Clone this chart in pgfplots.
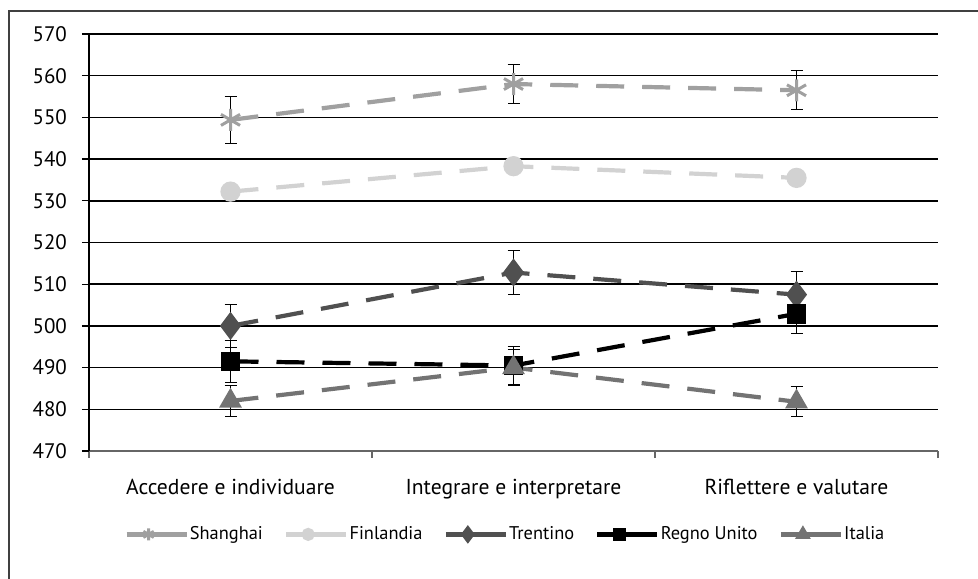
\documentclass[border=0pt]{standalone}
\usepackage{pgfplots}
\pgfplotsset{compat=1.18}
\usepackage{fontspec}
\setmainfont{PT Sans}
\definecolor{cSh}{RGB}{160,160,160}
\definecolor{cFi}{RGB}{210,210,210}
\definecolor{cTr}{RGB}{80,80,80}
\definecolor{cRU}{RGB}{0,0,0}
\definecolor{cIt}{RGB}{115,115,115}
\begin{document}
\begin{tikzpicture}
\useasboundingbox (0,0) rectangle (489pt,289pt);
\draw[black!75, line width=0.6pt] (4.5pt,-20pt) -- (4.5pt,283.5pt) -- (520pt,283.5pt);
\begin{axis}[
  at={(44.5pt,63.5pt)}, anchor=south west,
  scale only axis, width=424.5pt, height=208.5pt,
  xmin=-0.5, xmax=2.5, ymin=470, ymax=570,
  ytick={470,480,...,570},
  xtick={0,1,2},
  xticklabels={Accedere e individuare,Integrare e interpretare,Riflettere e valutare},
  minor xtick={-0.5,0.5,1.5,2.5},
  axis x line*=bottom, axis y line*=left,
  axis line style={black, line width=0.6pt, -},
  x axis line style={black!60},
  ymajorgrids, grid style={black, line width=0.75pt},
  xmajorgrids=false, xminorgrids=false,
  tick align=outside,
  major tick length=3.5pt, minor tick length=3.5pt,
  x tick style={draw=none},
  minor x tick style={draw=black!60, line width=0.6pt},
  y tick style={black, line width=0.6pt},
  yticklabel style={font=\fontsize{10.5}{12}\selectfont, xshift=-4pt},
  /pgf/number format/assume math mode=true,
  xticklabel style={font=\fontsize{10.8}{13}\selectfont, yshift=-7pt},
  legend style={at={(0.49,-0.2)}, anchor=center, draw=none, font=\fontsize{9.2}{11}\selectfont,
    nodes={inner xsep=0.6pt},
    /tikz/every even column/.append style={column sep=10pt}},
  legend columns=5,
  legend image code/.code={\draw[mark repeat=2, mark phase=2, #1, solid, every mark/.append style={scale=0.55}] plot coordinates {(0pt,0pt)(11pt,0pt)(30pt,0pt)};},
  every axis plot/.append style={line width=2.1pt, dash pattern=on 14pt off 9pt},
  error bars/y dir=both, error bars/y explicit,
  error bars/error bar style={black, solid, line width=0.5pt},
  error bars/error mark options={black, solid, line width=0.5pt, mark size=3pt, rotate=90},
]
\addplot[cSh, mark=asterisk, mark size=5.5pt, mark options={solid, line width=1.5pt}] coordinates {(0,549.4) +- (0,5.6) (1,558.0) +- (0,4.6) (2,556.5) +- (0,4.7)};
\addlegendentry{Shanghai}
\addplot[cFi, mark=*, mark size=4pt, mark options={solid}, error bars/y dir=none] coordinates {(0,532.2) (1,538.3) (2,535.5)};
\addlegendentry{Finlandia}
\addplot[cTr, mark=diamond*, mark size=5.3pt, mark options={solid}] coordinates {(0,500.0) +- (0,5.1) (1,512.8) +- (0,5.3) (2,507.5) +- (0,5.6)};
\addlegendentry{Trentino}
\addplot[cRU, mark=square*, mark size=3.8pt, mark options={solid}] coordinates {(0,491.5) +- (0,5.0) (1,490.5) +- (0,4.6) (2,502.9) +- (0,4.8)};
\addlegendentry{Regno Unito}
\addplot[cIt, mark=triangle*, mark size=4.5pt, mark options={solid}] coordinates {(0,482.0) +- (0,3.8) (1,490.0) +- (0,4.3) (2,481.8) +- (0,3.6)};
\addlegendentry{Italia}
\end{axis}
\end{tikzpicture}
\end{document}
